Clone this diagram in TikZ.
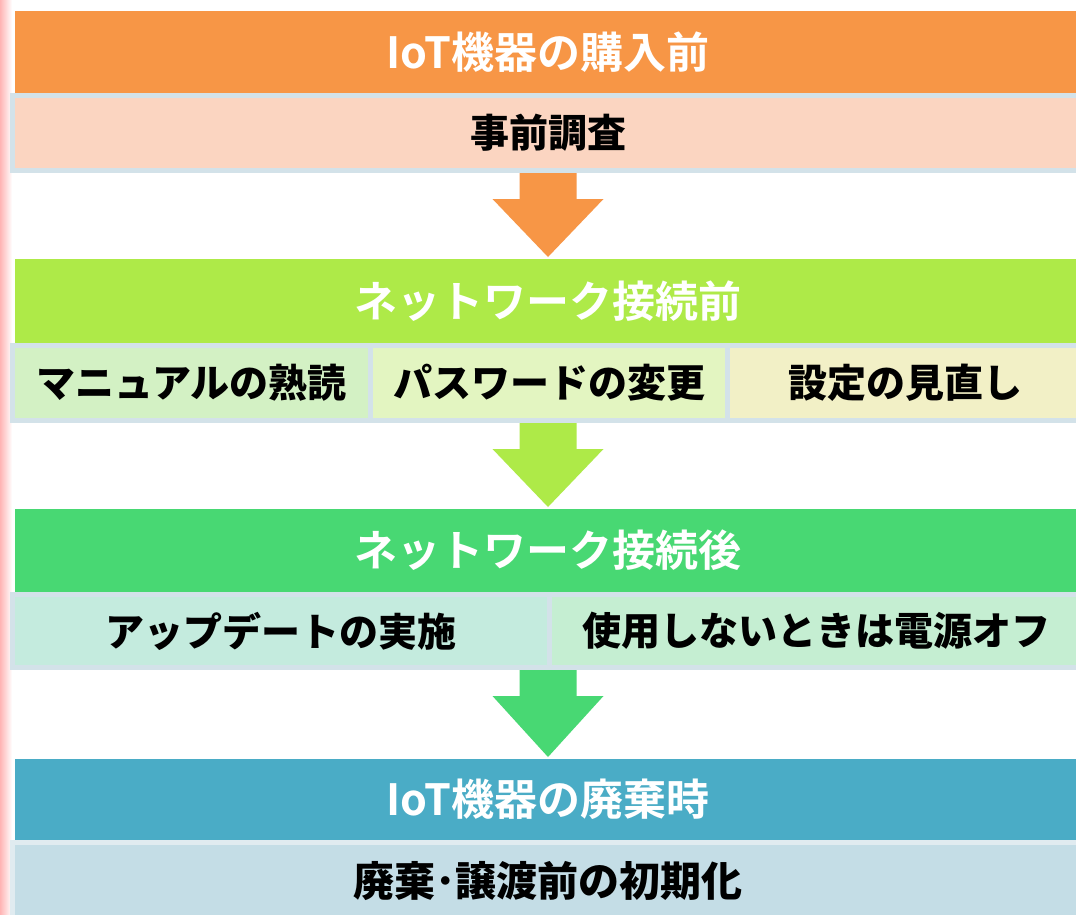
\documentclass[tikz,border=0pt]{standalone}
\usepackage{fontspec}
\newfontfamily\jp{Noto Sans CJK JP}[BoldFont=* Bold]
\newfontfamily\jpk{Noto Sans CJK JP Black}
\usetikzlibrary{calc}
\definecolor{hOrange}{HTML}{F79646}
\definecolor{hLime}{HTML}{AEEA48}
\definecolor{hGreen}{HTML}{48D873}
\definecolor{hBlue}{HTML}{4AACC6}
\definecolor{sPeach}{HTML}{FBD5C1}
\definecolor{sGa}{HTML}{D3F1C4}
\definecolor{sGb}{HTML}{E3F5C1}
\definecolor{sGc}{HTML}{F2F0C6}
\definecolor{sTa}{HTML}{C4EBDE}
\definecolor{sTb}{HTML}{C5EED2}
\definecolor{sBlue}{HTML}{C4DDE6}
\definecolor{edgeC}{HTML}{D3E2E9}
\definecolor{pinkC}{HTML}{FFB4B4}
\newcommand\blockarrow[3]{%
  \fill[#3] let \p1=(#1.south), \p2=(#2.north) in
    (\x2-28.5pt,\y1-2.5pt) -- (\x2+28.5pt,\y1-2.5pt) -- (\x2+28.5pt,\y1-28.5pt)
    -- (\x2+55.5pt,\y1-28.5pt) -- (\x2,\y2+2pt) -- (\x2-55.5pt,\y1-28.5pt)
    -- (\x2-28.5pt,\y1-28.5pt) -- cycle;}
\begin{document}
\begin{tikzpicture}[x=1pt,y=-1pt,
  hdr/.style={rectangle, inner sep=0pt, outer sep=0pt, minimum width=1066pt,
    text=white, font=\jp\bfseries\fontsize{43}{51}\selectfont},
  cell/.style={rectangle, inner sep=0pt, outer sep=0pt, draw=edgeC, line width=5pt,
    text=black, font=\jpk\fontsize{39}{46}\selectfont}]
\useasboundingbox (0,0) rectangle (1076,914);
\clip (0,0) rectangle (1076,914);
\fill[white] (0,0) rectangle (1076,914);
\shade[left color=pinkC, right color=white] (0,0) rectangle (12,914);

% stage 1
\node[hdr, fill=hOrange, minimum height=83pt] (h1) at (548,52) {IoT機器の購入前};
\node[cell, fill=sPeach, minimum width=1071pt, minimum height=75pt] (r1) at (548,133) {事前調査};

% stage 2
\node[hdr, fill=hLime, minimum height=84pt] (h2) at (548,301) {ネットワーク接続前};
\node[cell, fill=sGa, minimum width=358pt, minimum height=75pt] (c2a) at (191.5,383) {マニュアルの熟読};
\node[cell, fill=sGb, minimum width=357pt, minimum height=75pt] (c2b) at (549,383) {パスワードの変更};
\node[cell, fill=sGc, minimum width=356pt, minimum height=75pt] (c2c) at (905.5,383) {設定の見直し};

% stage 3
\node[hdr, fill=hGreen, minimum height=83pt] (h3) at (548,550.5) {ネットワーク接続後};
\node[cell, fill=sTa, minimum width=537pt, minimum height=73pt] (c3a) at (281,631) {アップデートの実施};
\node[cell, fill=sTb, minimum width=534pt, minimum height=73pt] (c3b) at (816.5,631) {使用しないときは電源オフ};

% stage 4
\node[hdr, fill=hBlue, minimum height=81pt] (h4) at (548,799.5) {IoT機器の廃棄時};
\node[cell, fill=sBlue, draw=edgeC!70!white, minimum width=1071pt, minimum height=77pt,
  font=\jpk\fontsize{41}{48}\selectfont] (r4) at (548,881) {廃棄･譲渡前の初期化};

% arrows
\blockarrow{r1}{h2}{hOrange}
\blockarrow{c2b}{h3}{hLime}
\blockarrow{c3a}{h4}{hGreen}
\end{tikzpicture}
\end{document}
